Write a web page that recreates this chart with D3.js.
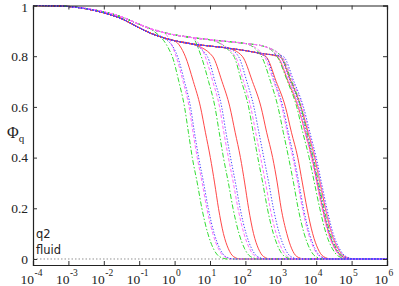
<!DOCTYPE html>
<html>
<head>
<meta charset="utf-8">
<script src="https://cdn.jsdelivr.net/npm/d3@7"></script>
<style>
body { margin: 0; background: #fff; }
</style>
</head>
<body>
<div id="chart"></div>
<script>
var w = 399;
var h = 286;
var serif = "'Liberation Serif', 'Times New Roman', Times, serif";

// x ticks are decades, 10^-4 .. 10^6
var xExps = [-4, -3, -2, -1, 0, 1, 2, 3, 4, 5, 6];
var yTicks = [0, 0.2, 0.4, 0.6, 0.8, 1];
var yTickLabels = ["0", "0.2", "0.4", "0.6", "0.8", "1"];

// short time part + plateau, [log10 t, phi]
var plateauUpper = [[-4, 1], [-3.5, 0.999], [-3, 0.996], [-2.5, 0.988], [-2, 0.975], [-1.5, 0.955], [-1, 0.926],
                    [-0.7, 0.909], [-0.3, 0.893], [0, 0.884], [0.5, 0.873], [1, 0.865], [1.5, 0.858], [2, 0.85], [2.5, 0.84]];
var plateauLower = [[-4, 1], [-3.5, 0.999], [-3, 0.996], [-2.5, 0.987], [-2, 0.971], [-1.5, 0.948], [-1, 0.912],
                    [-0.7, 0.892], [-0.3, 0.872], [0, 0.861], [0.5, 0.848], [1, 0.84], [1.5, 0.832], [2, 0.822], [2.5, 0.81]];

// phi levels, and log10 t where each curve crosses them
var levels = [0.8, 0.7, 0.6, 0.5, 0.4, 0.3, 0.2, 0.1, 0.04, 0.01, 0];

var greenTimes = [
    [-0.07, 0.12, 0.28, 0.39, 0.50, 0.64, 0.77, 0.94, 1.10, 1.26, 1.50],
    [0.75, 0.96, 1.14, 1.26, 1.38, 1.52, 1.65, 1.82, 1.98, 2.14, 2.38],
    [1.67, 1.89, 2.09, 2.22, 2.35, 2.49, 2.62, 2.79, 2.95, 3.11, 3.35],
    [2.45, 2.71, 2.92, 3.07, 3.22, 3.36, 3.49, 3.66, 3.82, 3.98, 4.22],
    [2.89, 3.19, 3.45, 3.62, 3.80, 3.95, 4.10, 4.28, 4.46, 4.64, 4.90],
    [3.01, 3.31, 3.57, 3.74, 3.92, 4.07, 4.22, 4.40, 4.58, 4.76, 5.02]
];
var magentaTimes = [
    [0.04, 0.24, 0.41, 0.52, 0.64, 0.78, 0.91, 1.08, 1.24, 1.40, 1.64],
    [0.86, 1.08, 1.27, 1.39, 1.52, 1.66, 1.79, 1.96, 2.12, 2.28, 2.52],
    [1.71, 1.95, 2.15, 2.29, 2.43, 2.57, 2.70, 2.87, 3.03, 3.19, 3.43],
    [2.53, 2.80, 3.03, 3.18, 3.34, 3.48, 3.61, 3.78, 3.94, 4.10, 4.34],
    [2.92, 3.23, 3.50, 3.68, 3.86, 4.01, 4.16, 4.34, 4.52, 4.70, 4.96],
    [3.03, 3.34, 3.61, 3.79, 3.97, 4.12, 4.27, 4.45, 4.63, 4.81, 5.07]
];
var blueTimes = [
    [0.08, 0.28, 0.45, 0.56, 0.68, 0.82, 0.95, 1.12, 1.28, 1.44, 1.68],
    [0.92, 1.14, 1.33, 1.45, 1.58, 1.72, 1.85, 2.02, 2.18, 2.34, 2.58],
    [1.80, 2.04, 2.24, 2.38, 2.52, 2.66, 2.79, 2.96, 3.12, 3.28, 3.52],
    [2.56, 2.83, 3.06, 3.21, 3.37, 3.51, 3.64, 3.81, 3.97, 4.13, 4.37],
    [2.96, 3.27, 3.54, 3.72, 3.90, 4.05, 4.20, 4.38, 4.56, 4.74, 5.00],
    [3.06, 3.37, 3.64, 3.82, 4.00, 4.15, 4.30, 4.48, 4.66, 4.84, 5.10]
];
var redTimes = [
    [0.30, 0.53, 0.73, 0.87, 1.01, 1.13, 1.24, 1.38, 1.52, 1.66, 1.86],
    [1.07, 1.34, 1.56, 1.71, 1.86, 1.98, 2.09, 2.23, 2.37, 2.51, 2.71],
    [1.91, 2.20, 2.44, 2.60, 2.77, 2.90, 3.01, 3.17, 3.31, 3.45, 3.67],
    [2.57, 2.87, 3.13, 3.30, 3.48, 3.61, 3.74, 3.90, 4.05, 4.20, 4.43],
    [2.88, 3.21, 3.49, 3.69, 3.88, 4.03, 4.18, 4.36, 4.54, 4.72, 4.98],
    [2.96, 3.29, 3.57, 3.77, 3.96, 4.11, 4.26, 4.44, 4.62, 4.80, 5.06]
];

var families = [
    {times: redTimes, plateau: plateauLower, color: "#ff4848", dash: null},
    {times: greenTimes, plateau: plateauUpper, color: "#33dd33", dash: "5,2,1.5,2"},
    {times: magentaTimes, plateau: plateauUpper, color: "#ff70ff", dash: "3.5,2"},
    {times: blueTimes, plateau: plateauLower, color: "#4444ff", dash: "1.3,1.7"}
];

var mLeft = 33, mRight = 387, mTop = 5.5, mBottom = 265;

var xScale = d3.scaleLog().domain([1e-4, 1e6]).range([mLeft, mRight]);
var yScale = d3.scaleLinear().domain([-0.0237, 1]).range([mBottom, mTop]);

var svg = d3.select("#chart")
            .append("svg")
            .attr("width", w)
            .attr("height", h)
            .style("background", "#fff");

// zero line
svg.append("line")
    .attr("x1", mLeft).attr("x2", mRight)
    .attr("y1", yScale(0)).attr("y2", yScale(0))
    .attr("stroke", "#777")
    .attr("stroke-width", 0.8)
    .attr("stroke-dasharray", "1.5,2");

var line = d3.line()
    .x(function(d) { return xScale(Math.pow(10, d[0])); })
    .y(function(d) { return yScale(d[1]); })
    .curve(d3.curveMonotoneX);

var plot = svg.append("g");

families.forEach(function(f) {
    f.times.forEach(function(t) {
        var pts = f.plateau.filter(function(p) { return p[0] <= t[0] - 0.25; });
        t.forEach(function(v, i) { pts.push([v, levels[i]]); });
        pts.push([6, 0]);
        plot.append("path")
            .attr("d", line(pts))
            .attr("fill", "none")
            .attr("stroke", f.color)
            .attr("stroke-width", 1)
            .attr("stroke-dasharray", f.dash);
    });
});

// axes and frame
var decadeVals = xExps.map(function(e) { return Math.pow(10, e); });
var xBottom = d3.axisBottom(xScale).tickValues(decadeVals).tickSize(-4).tickFormat("");
var xTop = d3.axisTop(xScale).tickValues(decadeVals).tickSize(-4).tickFormat("");
var yLeft = d3.axisLeft(yScale).tickValues(yTicks).tickSize(-4).tickPadding(5)
    .tickFormat(function(d, i) { return yTickLabels[i]; });
var yRight = d3.axisRight(yScale).tickValues(yTicks).tickSize(-4).tickFormat("");

svg.append("g").attr("transform", "translate(0," + mBottom + ")").call(xBottom);
svg.append("g").attr("transform", "translate(0," + mTop + ")").call(xTop);
var gy = svg.append("g").attr("transform", "translate(" + mLeft + ",0)").call(yLeft);
svg.append("g").attr("transform", "translate(" + mRight + ",0)").call(yRight);

svg.selectAll(".domain").attr("stroke", "#222").attr("stroke-width", 1.2);
svg.selectAll(".tick line").attr("stroke", "#333");

gy.attr("font-family", serif).attr("font-size", 13.5);
gy.selectAll("text")
    .style("font-family", serif)
    .style("font-size", "13.5px")
    .attr("fill", "#222");
// keep the top label inside the picture
gy.selectAll("text").filter(function(d) { return d === 1; }).attr("dy", "0.45em");

// x tick labels: 10 with superscript exponent
var xl = svg.append("g")
    .attr("fill", "#222");
xExps.forEach(function(e) {
    var tx = xScale(Math.pow(10, e));
    xl.append("text")
        .attr("x", tx + 1)
        .attr("y", 284)
        .attr("text-anchor", "end")
        .style("font-family", serif)
        .style("font-size", "13.5px")
        .text("10");
    xl.append("text")
        .attr("x", tx + 1.5)
        .attr("y", 276)
        .style("font-family", serif)
        .style("font-size", "9.5px")
        .text(e);
});

// y axis label
var yl = svg.append("text")
    .attr("x", 7)
    .attr("y", 138)
    .style("font-family", serif)
    .style("font-size", "16px")
    .attr("fill", "#222")
    .text("\u03A6");
yl.append("tspan")
    .attr("dy", 4)
    .style("font-size", "11px")
    .text("q");

svg.append("text")
    .attr("x", 36).attr("y", 238)
    .style("font-family", "'DejaVu Sans', sans-serif")
    .style("font-size", "11.5px")
    .attr("fill", "#222")
    .text("q2");
svg.append("text")
    .attr("x", 36).attr("y", 254)
    .style("font-family", "'DejaVu Sans', sans-serif")
    .style("font-size", "11.5px")
    .attr("fill", "#222")
    .text("fluid");
</script>
</body>
</html>
